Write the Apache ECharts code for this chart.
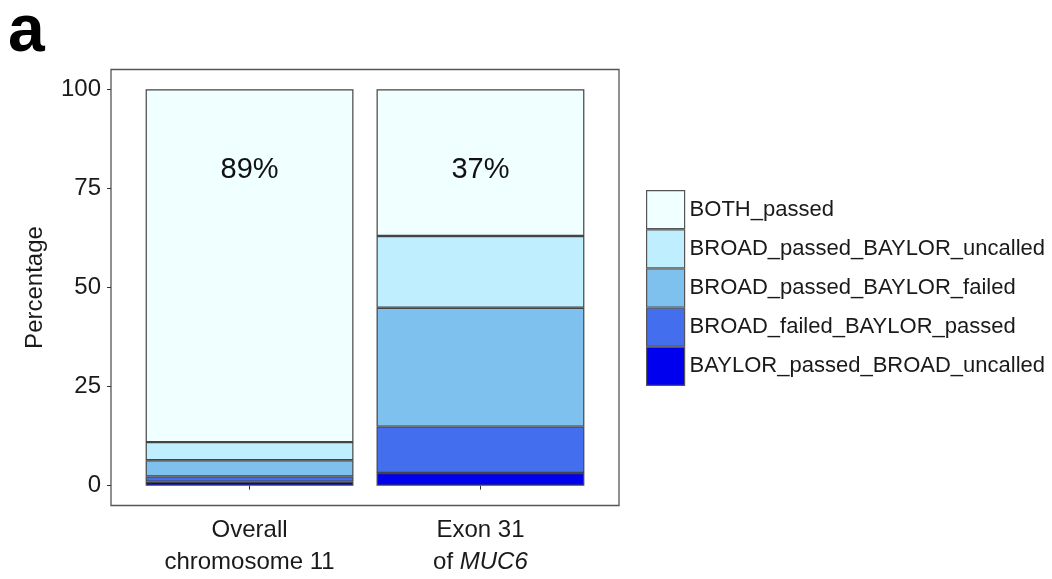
<!DOCTYPE html>
<html>
<head>
<meta charset="utf-8">
<script src="https://cdn.jsdelivr.net/npm/echarts@6/dist/echarts.min.js"></script>
<style>
  html, body { margin: 0; padding: 0; background: #ffffff; }
  #chart { width: 1052px; height: 579px; }
</style>
</head>
<body>
<div id="chart"></div>
<script>
// Categories on the x axis
const categories = ['Overall chromosome 11', 'Exon 31 of MUC6'];
const categoryLabels = ['Overall\nchromosome 11', 'Exon 31\nof {i|MUC6}'];

// Percentages per call-status class, stacked bottom to top
const baylorPassedBroadUncalled = [1.0, 3.2];
const broadFailedBaylorPassed = [1.3, 11.7];
const broadPassedBaylorFailed = [4.1, 30.0];
const broadPassedBaylorUncalled = [4.6, 18.1];
const bothPassed = [89.0, 37.0];

const yTicks = [0, 25, 50, 75, 100];

// Legend order (top to bottom)
const legendOrder = [
  'BOTH_passed',
  'BROAD_passed_BAYLOR_uncalled',
  'BROAD_passed_BAYLOR_failed',
  'BROAD_failed_BAYLOR_passed',
  'BAYLOR_passed_BROAD_uncalled'
];

const FONT = '"Liberation Sans", Arial, Helvetica, sans-serif';

// Panel geometry: the discrete scale spans 0.4..2.6, bars sit at 1 and 2
const PANEL_LEFT = 111, PANEL_WIDTH = 508, PANEL_TOP = 69.5, PANEL_HEIGHT = 436;
const unitPx = PANEL_WIDTH / 2.2;
const DATA_LEFT = PANEL_LEFT + 0.1 * unitPx;
const DATA_WIDTH = 2 * unitPx;

const stackSeries = [
  { name: 'BAYLOR_passed_BROAD_uncalled', values: baylorPassedBroadUncalled, color: '#0000EE' },
  { name: 'BROAD_failed_BAYLOR_passed', values: broadFailedBaylorPassed, color: '#436EEE' },
  { name: 'BROAD_passed_BAYLOR_failed', values: broadPassedBaylorFailed, color: '#7EC0EE' },
  { name: 'BROAD_passed_BAYLOR_uncalled', values: broadPassedBaylorUncalled, color: '#BFEFFF' },
  { name: 'BOTH_passed', values: bothPassed, color: '#F0FFFF' }
];

const series = stackSeries.map(function (s) {
  const item = {
    name: s.name,
    type: 'bar',
    stack: 'total',
    xAxisIndex: 0,
    yAxisIndex: 0,
    barWidth: '90%',
    data: s.values,
    itemStyle: { color: s.color, borderColor: '#444444', borderWidth: 1.2 },
    emphasis: { disabled: true }
  };
  if (s.name === 'BOTH_passed') {
    item.label = {
      show: true,
      position: 'insideTop',
      distance: 66,
      fontFamily: FONT,
      fontSize: 29,
      color: '#111111',
      formatter: function (p) { return Math.round(p.value) + '%'; }
    };
  }
  return item;
});

const chart = echarts.init(document.getElementById('chart'), null, { renderer: 'canvas' });

chart.setOption({
  animation: false,
  backgroundColor: '#ffffff',
  textStyle: { fontFamily: FONT },
  graphic: [{
    type: 'text',
    left: 8,
    top: 0,
    style: {
      text: 'a',
      fontFamily: FONT,
      fontSize: 66,
      fontWeight: 'bold',
      fill: '#000000'
    }
  }],
  grid: [
    // data area (bars)
    { left: DATA_LEFT, top: PANEL_TOP, width: DATA_WIDTH, height: PANEL_HEIGHT, show: false },
    // panel frame with the y scale
    {
      left: PANEL_LEFT, top: PANEL_TOP, width: PANEL_WIDTH, height: PANEL_HEIGHT,
      show: true, borderColor: '#555555', borderWidth: 1.3, backgroundColor: 'transparent'
    }
  ],
  legend: {
    orient: 'vertical',
    left: 641,
    top: 185,
    itemWidth: 38,
    itemHeight: 38,
    itemGap: 0,
    icon: 'rect',
    data: legendOrder,
    selectedMode: false,
    itemStyle: { borderColor: '#555555', borderWidth: 1.2 },
    textStyle: { fontFamily: FONT, fontSize: 22, color: '#1a1a1a' }
  },
  xAxis: [
    {
      type: 'category',
      gridIndex: 0,
      data: categories,
      boundaryGap: true,
      axisLine: { show: false },
      splitLine: { show: false },
      axisTick: { show: true, alignWithLabel: true, length: 4, lineStyle: { color: '#333333', width: 1 } },
      axisLabel: {
        margin: 9,
        fontFamily: FONT,
        fontSize: 24,
        lineHeight: 32,
        color: '#1a1a1a',
        formatter: function (v, i) { return categoryLabels[i]; },
        rich: {
          i: { fontFamily: FONT, fontSize: 24, fontStyle: 'italic', color: '#1a1a1a', lineHeight: 32 }
        }
      }
    },
    {
      type: 'value',
      gridIndex: 1,
      show: false
    }
  ],
  yAxis: [
    {
      type: 'value',
      gridIndex: 0,
      min: -5,
      max: 105,
      show: false
    },
    {
      type: 'value',
      gridIndex: 1,
      min: -5,
      max: 105,
      name: 'Percentage',
      nameLocation: 'middle',
      nameGap: 64,
      nameTextStyle: { fontFamily: FONT, fontSize: 24, color: '#1a1a1a' },
      splitLine: { show: false },
      axisLine: { show: false },
      axisTick: {
        show: true,
        length: 4,
        customValues: yTicks,
        lineStyle: { color: '#333333', width: 1 }
      },
      axisLabel: {
        customValues: yTicks,
        margin: 10,
        fontFamily: FONT,
        fontSize: 24,
        color: '#1a1a1a'
      }
    }
  ],
  series: series
});
</script>
</body>
</html>
